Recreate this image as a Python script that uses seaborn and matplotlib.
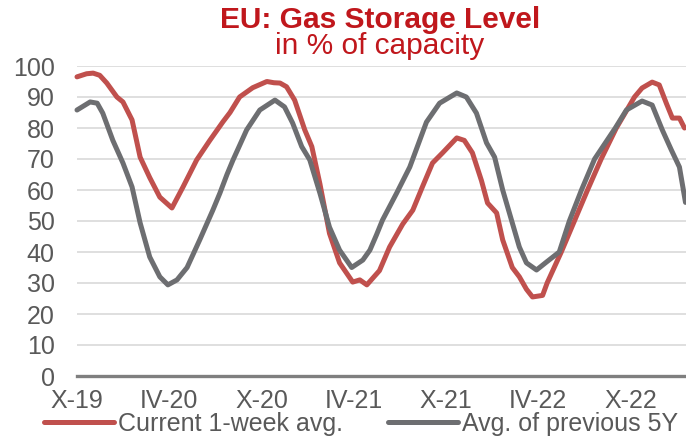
import pandas as pd
import seaborn as sns
import matplotlib.pyplot as plt

# --- data ---
cur_dates = [
    "2019-10-01", "2019-10-20", "2019-11-02", "2019-11-15", "2019-11-29", "2019-12-19",
    "2019-12-31", "2020-01-18", "2020-02-03", "2020-02-22", "2020-03-13", "2020-04-06",
    "2020-04-28", "2020-05-25", "2020-06-20", "2020-07-16", "2020-07-30", "2020-08-18",
    "2020-09-13", "2020-10-11", "2020-10-25", "2020-11-06", "2020-11-19", "2020-12-05",
    "2020-12-25", "2021-01-08", "2021-01-24", "2021-02-12", "2021-03-04", "2021-03-30",
    "2021-04-13", "2021-04-27", "2021-05-22", "2021-06-11", "2021-07-07", "2021-07-27",
    "2021-08-15", "2021-09-04", "2021-09-24", "2021-10-22", "2021-11-06", "2021-11-22",
    "2021-12-10", "2021-12-22", "2022-01-09", "2022-01-21", "2022-02-09", "2022-02-23",
    "2022-03-09", "2022-03-21", "2022-04-10", "2022-04-19", "2022-05-17", "2022-06-12",
    "2022-07-08", "2022-08-04", "2022-09-03", "2022-10-09", "2022-10-24", "2022-11-13",
    "2022-11-27", "2022-12-11", "2022-12-23", "2023-01-06", "2023-01-16",
]
cur_vals = [
    96.5, 97.5, 97.7, 97.0, 94.5, 90.0,
    88.4, 82.6, 70.6, 64.0, 57.7, 54.2,
    61.0, 69.7, 76.0, 82.0, 85.0, 90.0,
    93.0, 95.0, 94.6, 94.5, 93.3, 89.0,
    79.4, 74.0, 62.0, 46.0, 36.5, 30.3,
    31.0, 29.4, 34.0, 41.6, 49.0, 53.5,
    61.0, 68.7, 72.0, 76.8, 76.0, 72.0,
    63.0, 55.8, 52.6, 43.9, 35.0, 32.0,
    28.0, 25.5, 26.0, 30.0, 40.0, 50.0,
    60.0, 70.0, 80.0, 90.0, 92.9, 94.8,
    93.9, 88.0, 83.2, 83.2, 80.0,
]

avg_dates = [
    "2019-10-01", "2019-10-27", "2019-11-10", "2019-11-21", "2019-12-11", "2019-12-31",
    "2020-01-18", "2020-02-03", "2020-02-22", "2020-03-13", "2020-03-29", "2020-04-16",
    "2020-05-06", "2020-05-31", "2020-06-26", "2020-07-10", "2020-07-24", "2020-08-05",
    "2020-09-01", "2020-09-27", "2020-10-27", "2020-11-15", "2020-12-01", "2020-12-19",
    "2021-01-04", "2021-01-24", "2021-02-12", "2021-03-04", "2021-03-28", "2021-04-19",
    "2021-05-03", "2021-05-16", "2021-05-28", "2021-06-25", "2021-07-21", "2021-08-23",
    "2021-09-18", "2021-10-22", "2021-11-10", "2021-11-30", "2021-12-20", "2022-01-05",
    "2022-01-21", "2022-02-09", "2022-02-23", "2022-03-09", "2022-03-29", "2022-04-18",
    "2022-05-13", "2022-06-02", "2022-06-26", "2022-07-22", "2022-09-01", "2022-09-23",
    "2022-10-24", "2022-11-13", "2022-12-03", "2022-12-21", "2023-01-06", "2023-01-18",
]
avg_vals = [
    85.8, 88.4, 88.0, 84.8, 76.0, 68.7,
    61.0, 49.4, 38.4, 32.0, 29.4, 31.0,
    35.0, 43.9, 53.5, 59.0, 65.0, 69.7,
    79.4, 85.8, 89.0, 86.8, 81.6, 74.0,
    69.7, 59.0, 48.0, 40.6, 35.0, 37.4,
    40.6, 45.5, 50.3, 59.0, 67.4, 81.9,
    88.0, 91.3, 90.0, 84.8, 75.2, 70.6,
    60.0, 49.4, 41.6, 36.5, 34.2, 36.8,
    40.0, 50.0, 60.0, 70.0, 80.0, 85.8,
    88.7, 87.4, 79.4, 72.9, 67.4, 56.0,
]

tick_dates = ["2019-10-01", "2020-04-01", "2020-10-01", "2021-04-01",
              "2021-10-01", "2022-04-01", "2022-10-01"]
tick_labels = ["X-19", "IV-20", "X-20", "IV-21", "X-21", "IV-22", "X-22"]

series_names = ["Current 1-week avg.", "Avg. of previous 5Y"]
colors = {"Current 1-week avg.": "#C0504D", "Avg. of previous 5Y": "#6D6E71"}

df = pd.concat([
    pd.DataFrame({"date": pd.to_datetime(cur_dates), "value": cur_vals,
                  "series": series_names[0]}),
    pd.DataFrame({"date": pd.to_datetime(avg_dates), "value": avg_vals,
                  "series": series_names[1]}),
])

# --- plot ---
sns.set_style("white")
plt.rcParams["font.family"] = ["Liberation Sans", "DejaVu Sans"]

fig = plt.figure(figsize=(6.86, 4.37), dpi=100)
ax = fig.add_axes([77 / 686, 1 - 376 / 437, 1 - 77 / 686, 310 / 437])

sns.lineplot(data=df, x="date", y="value", hue="series", hue_order=series_names,
             palette=colors, linewidth=3.6, ax=ax, legend=False)
for line in ax.lines:
    line.set_solid_capstyle("round")
    line.set_solid_joinstyle("round")
    line.set_clip_on(False)

ax.set_xlim(pd.Timestamp("2019-10-01"), pd.Timestamp("2023-01-19"))
ax.set_ylim(0, 100)
ax.set_yticks(range(0, 101, 10))
ax.set_xticks(pd.to_datetime(tick_dates))
ax.set_xticklabels(tick_labels)
ax.set_xlabel("")
ax.set_ylabel("")
ax.grid(axis="y", color="#D9D9D9", linewidth=1.2)
ax.set_axisbelow(True)
for side in ["top", "right", "left"]:
    ax.spines[side].set_visible(False)
ax.spines["bottom"].set_color("#7F7F7F")
ax.spines["bottom"].set_linewidth(2.4)
ax.tick_params(axis="both", length=0, labelsize=18, labelcolor="#595959")
ax.tick_params(axis="y", pad=16)
ax.tick_params(axis="x", pad=9)

# title block, centred over the plot
fig.text(380 / 686, 1 - 28 / 437, "EU: Gas Storage Level", ha="center", va="baseline",
         fontsize=21.5, fontweight="bold", color="#C0171C")
fig.text(380 / 686, 1 - 54 / 437, "in % of capacity", ha="center", va="baseline",
         fontsize=21.5, color="#C0171C")

handles = [plt.Line2D([], [], color=colors[n], linewidth=3.6, solid_capstyle="round")
           for n in series_names]
fig.legend(handles, series_names, loc="center", bbox_to_anchor=(361 / 686, 1 - 424 / 437),
           ncol=2, frameon=False, fontsize=18, labelcolor="#595959",
           handlelength=2.8, handletextpad=0.15, columnspacing=1.8,
           borderpad=0, borderaxespad=0)

fig.savefig("out.png", dpi=100)
